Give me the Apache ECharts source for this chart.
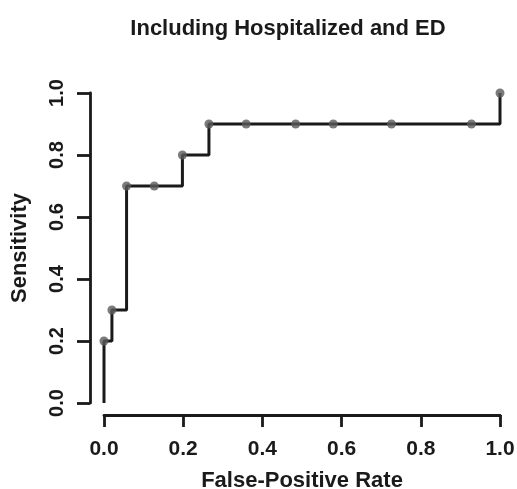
<!DOCTYPE html>
<html><head><meta charset="utf-8">
<script src="https://cdn.jsdelivr.net/npm/echarts@6/dist/echarts.min.js"></script>
<style>html,body{margin:0;padding:0;background:#fff}#c{width:517px;height:489px}</style>
</head><body><div id="c"></div>
<script>
const fpr = [0, 0.02, 0.057, 0.127, 0.198, 0.265, 0.359, 0.484, 0.579, 0.726, 0.928, 1.0];
const sens = [0.2, 0.3, 0.7, 0.7, 0.8, 0.9, 0.9, 0.9, 0.9, 0.9, 0.9, 1.0];
const startPoint = [0, 0];
const tickLabels = ['0.0','0.2','0.4','0.6','0.8','1.0'];

const pts = fpr.map((x,i)=>[x, sens[i]]);
const linePts = [startPoint].concat(pts);
const font = '"Liberation Sans", Arial, sans-serif';
const ink = '#1a1a1a';
const chart = echarts.init(document.getElementById('c'));
chart.setOption({
  animation:false,
  title:{text:'Including Hospitalized and ED', left:283, top:13, textAlign:'center',
    textStyle:{fontFamily:font, fontWeight:'bold', fontSize:22, color:ink}},
  grid:{left:104, right:17, top:93, bottom:86, outerBoundsMode:'none', containLabel:false},
  xAxis:{type:'value', min:0, max:1, interval:0.2, offset:12,
    name:'False-Positive Rate', nameLocation:'middle', nameGap:55, nameMoveOverlap:false,
    nameTextStyle:{fontFamily:font, fontWeight:'bold', fontSize:22, color:ink},
    axisLine:{show:true, onZero:false, lineStyle:{color:ink, width:2.8}},
    axisTick:{show:true, length:12, lineStyle:{color:ink, width:2.8}},
    axisLabel:{fontFamily:font, fontWeight:'bold', fontSize:21, color:ink, margin:24,
      formatter:(v)=>tickLabels[Math.round(v*5)]},
    splitLine:{show:false}},
  yAxis:{type:'value', min:0, max:1, interval:0.2, offset:14,
    name:'Sensitivity', nameLocation:'middle', nameGap:59, nameMoveOverlap:false,
    nameTextStyle:{fontFamily:font, fontWeight:'bold', fontSize:22, color:ink},
    axisLine:{show:true, onZero:false, lineStyle:{color:ink, width:2.8}},
    axisTick:{show:true, length:13, lineStyle:{color:ink, width:2.8}},
    axisLabel:{fontFamily:font, fontWeight:'bold', fontSize:20, color:ink, margin:23, rotate:90,
      formatter:(v)=>tickLabels[Math.round(v*5)]},
    splitLine:{show:false}},
  series:[
    {type:'line', data:linePts, step:'end', showSymbol:false, lineStyle:{color:ink, width:3}},
    {type:'scatter', data:pts, symbolSize:9, itemStyle:{color:'#5a5a5a'}, z:3}
  ]
});
</script></body></html>
